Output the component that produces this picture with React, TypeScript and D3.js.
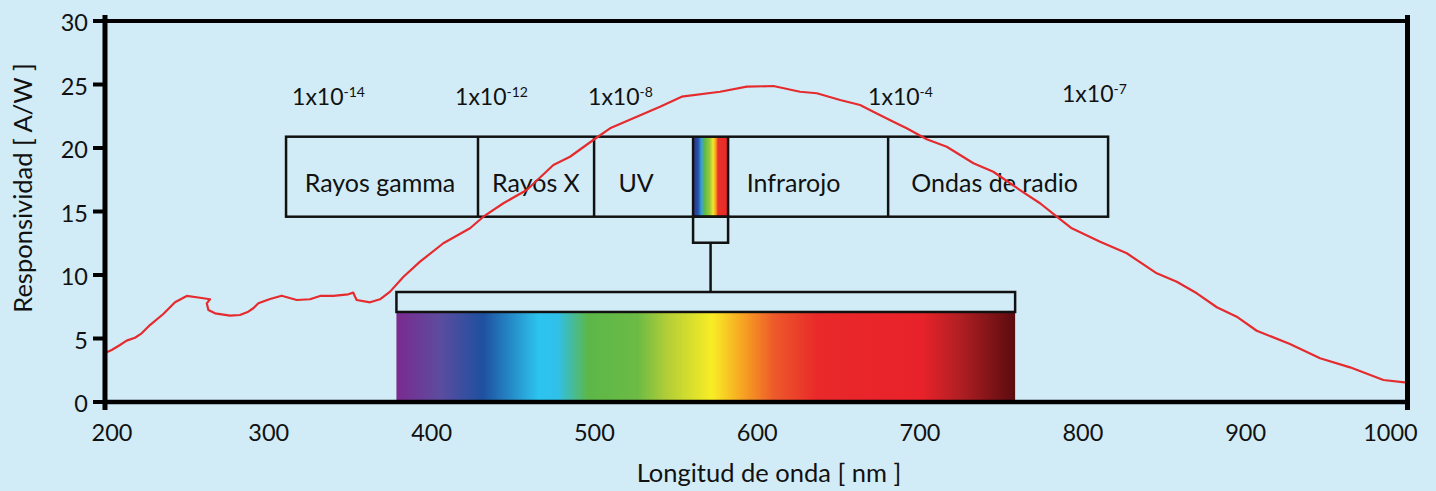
import React, { useEffect, useRef } from 'react';
import * as d3 from 'd3';

// responsivity curve (nm, A/W)
const wavelength = [
  200, 204.1, 209.2, 213.3, 218.4, 222.5, 227.6, 235.8, 243.0, 250.2, 258.4, 264.5,
  262.5, 263.5, 267.6, 276.8, 282.9, 288.0, 291.1, 294.2, 301.4, 308.5, 317.8, 325.9,
  332.1, 340.2, 349.4, 352.5, 353.6, 354.6, 362.8, 368.9, 375.1, 383.2, 393.5, 407.8,
  424.2, 432.4, 444.7, 459.0, 475.4, 485.6, 499.9, 510.2, 526.6, 540.9, 554.2, 577.8,
  594.2, 610.5, 626.9, 637.2, 651.5, 663.8, 671.9, 684.2, 692.4, 704.7, 717.0, 733.4,
  745.6, 762.0, 774.3, 784.6, 793.8, 811.2, 827.6, 846.0, 858.3, 870.6, 882.9, 895.1,
  907.4, 927.8, 946.3, 964.7, 985.2, 999.6,
];
const responsivity = [
  3.85, 4.09, 4.49, 4.83, 5.06, 5.41, 6.06, 6.93, 7.85, 8.35, 8.21, 8.09,
  7.77, 7.24, 6.98, 6.8, 6.85, 7.11, 7.38, 7.77, 8.11, 8.37, 8.03, 8.09,
  8.35, 8.35, 8.48, 8.61, 8.29, 8.03, 7.85, 8.09, 8.69, 9.84, 11.05, 12.5,
  13.68, 14.59, 15.65, 16.69, 18.66, 19.31, 20.63, 21.55, 22.46, 23.25, 24.04, 24.43,
  24.83, 24.88, 24.43, 24.31, 23.78, 23.39, 22.86, 22.07, 21.55, 20.69, 20.1, 18.8,
  18.13, 16.69, 15.65, 14.59, 13.68, 12.62, 11.71, 10.13, 9.47, 8.56, 7.46, 6.72,
  5.61, 4.57, 3.44, 2.73, 1.73, 1.52,
];

const xTicks = [200, 300, 400, 500, 600, 700, 800, 900, 1000];
const yTicks = [0, 5, 10, 15, 20, 25, 30];

// spectrum boxes, edges given in units of the x scale
const bandNames = ['Rayos gamma', 'Rayos X', 'UV', '', 'Infrarojo', 'Ondas de radio'];
const bandEdges = [311.2, 429.1, 500.4, 561.2, 582.7, 681.0, 816.1];
const bandLabelAt = [368.9, 464.7, 526.2, 0, 622.9, 746.4];
const wavelengthExp = ['-14', '-12', '-8', '-4', '-7'];
const wavelengthExpAt = [314.9, 415.0, 496.7, 668.7, 787.8];
const visibleRange = [379, 759];

const spectrumStops: [number, string][] = [
  [0, '#7b2a8f'], [0.07, '#5c4c9f'], [0.14, '#1e509f'], [0.23, '#2cc4ef'],
  [0.26, '#30c0ea'], [0.31, '#5cb748'], [0.39, '#6cbb45'], [0.44, '#b5cf36'],
  [0.51, '#f8ed25'], [0.56, '#f7a322'], [0.61, '#ed5a2a'], [0.68, '#e9292a'],
  [0.85, '#e8222a'], [0.91, '#b11f23'], [1, '#5b0b0f'],
];
const miniStops: [number, string][] = [
  [0.05, '#2e3a8c'], [0.14, '#2050a8'], [0.24, '#3aa0d8'], [0.33, '#5bb848'],
  [0.48, '#9ccc3a'], [0.57, '#f4e52a'], [0.65, '#f5a020'], [0.71, '#e83228'], [1, '#e8282a'],
];

const font = "Lato, 'Open Sans', sans-serif";

function App() {
  const ref = useRef<SVGSVGElement>(null);

  useEffect(() => {
    const width = 1436;
    const height = 491;
    const svg = d3.select(ref.current);
    svg.selectAll('*').remove();

    const x = d3.scaleLinear().domain([200, 1000]).range([105, 1407.5]);
    const y = d3.scaleLinear().domain([0, 30]).range([402, 21]);

    svg.append('rect').attr('width', width).attr('height', height).attr('fill', '#d1ecf7');

    const defs = svg.append('defs');
    const addGrad = (id: string, stops: [number, string][]) => {
      const g = defs.append('linearGradient').attr('id', id).attr('x1', 0).attr('x2', 1).attr('y1', 0).attr('y2', 0);
      stops.forEach(([o, c]) => g.append('stop').attr('offset', o).attr('stop-color', c));
    };
    addGrad('spectrum', spectrumStops);
    addGrad('mini', miniStops);

    // visible spectrum bar
    svg.append('rect')
      .attr('x', x(visibleRange[0]))
      .attr('y', y(7.09))
      .attr('width', x(visibleRange[1]) - x(visibleRange[0]))
      .attr('height', y(0) - y(7.09))
      .attr('fill', 'url(#spectrum)');
    svg.append('rect')
      .attr('x', x(visibleRange[0]))
      .attr('y', y(8.66))
      .attr('width', x(visibleRange[1]) - x(visibleRange[0]))
      .attr('height', y(7.09) - y(8.66))
      .attr('fill', 'none')
      .attr('stroke', '#111')
      .attr('stroke-width', 2.5);

    // band boxes
    const top = y(20.89), bot = y(14.59);
    svg.append('rect')
      .attr('x', x(bandEdges[3]))
      .attr('y', top)
      .attr('width', x(bandEdges[4]) - x(bandEdges[3]))
      .attr('height', bot - top)
      .attr('fill', 'url(#mini)');
    svg.append('rect')
      .attr('x', x(bandEdges[0]))
      .attr('y', top)
      .attr('width', x(bandEdges[6]) - x(bandEdges[0]))
      .attr('height', bot - top)
      .attr('fill', 'none')
      .attr('stroke', '#111')
      .attr('stroke-width', 2.5);
    svg.selectAll('.divider')
      .data(bandEdges.slice(1, -1))
      .enter().append('line')
      .attr('x1', (d) => x(d)).attr('x2', (d) => x(d))
      .attr('y1', top).attr('y2', bot)
      .attr('stroke', '#111').attr('stroke-width', 2.5);

    // zoom box + connector
    svg.append('rect')
      .attr('x', x(bandEdges[3]))
      .attr('y', bot)
      .attr('width', x(bandEdges[4]) - x(bandEdges[3]))
      .attr('height', y(12.54) - bot)
      .attr('fill', 'none')
      .attr('stroke', '#111')
      .attr('stroke-width', 2.5);
    const mid = (bandEdges[3] + bandEdges[4]) / 2;
    svg.append('line')
      .attr('x1', x(mid)).attr('x2', x(mid))
      .attr('y1', y(12.54)).attr('y2', y(8.66))
      .attr('stroke', '#111').attr('stroke-width', 2.5);

    // band names
    svg.selectAll('.band')
      .data(bandNames.map((n, i) => ({ n, at: bandLabelAt[i] })).filter((d) => d.n))
      .enter().append('text')
      .attr('x', (d) => x(d.at))
      .attr('y', 192)
      .attr('text-anchor', 'middle')
      .attr('font-family', font)
      .attr('font-size', 25)
      .attr('fill', '#111')
      .text((d) => d.n);

    // wavelength magnitudes
    const exp = svg.selectAll('.exp')
      .data(wavelengthExp.map((e, i) => ({ e, at: wavelengthExpAt[i] })))
      .enter().append('text')
      .attr('x', (d) => x(d.at))
      .attr('y', (d, i) => (i === 4 ? 102 : 105))
      .attr('font-family', font)
      .attr('font-size', 23)
      .attr('fill', '#111');
    exp.append('tspan').text('1x10');
    exp.append('tspan').attr('dy', -8).attr('font-size', 14).text((d) => d.e);

    // curve
    const line = d3.line<number>()
      .x((d, i) => x(wavelength[i]))
      .y((d) => y(d));
    svg.append('path')
      .datum(responsivity)
      .attr('d', line)
      .attr('fill', 'none')
      .attr('stroke', '#e52b2e')
      .attr('stroke-width', 2.2)
      .attr('stroke-linejoin', 'round');

    // frame
    const g = svg.append('g').attr('stroke', '#000');
    g.append('line').attr('x1', x(200)).attr('x2', x(1000)).attr('y1', y(30)).attr('y2', y(30)).attr('stroke-width', 4);
    g.append('line').attr('x1', x(200)).attr('x2', x(1000)).attr('y1', y(0)).attr('y2', y(0)).attr('stroke-width', 4.5);
    g.append('line').attr('x1', x(200)).attr('x2', x(200)).attr('y1', y(30) - 6).attr('y2', y(0) + 8).attr('stroke-width', 5);
    g.append('line').attr('x1', x(1000)).attr('x2', x(1000)).attr('y1', y(30) - 6).attr('y2', y(0) + 8).attr('stroke-width', 5);
    g.selectAll('.ytick')
      .data(yTicks)
      .enter().append('line')
      .attr('x1', x(200) - 12).attr('x2', x(200))
      .attr('y1', (d) => y(d)).attr('y2', (d) => y(d))
      .attr('stroke-width', 4);

    svg.selectAll('.ylab')
      .data(yTicks)
      .enter().append('text')
      .attr('x', 88)
      .attr('y', (d) => y(d) + 1)
      .attr('text-anchor', 'end')
      .attr('dominant-baseline', 'central')
      .attr('font-family', font)
      .attr('font-size', 23.5)
      .attr('fill', '#111')
      .text((d) => d);

    svg.selectAll('.xlab')
      .data(xTicks)
      .enter().append('text')
      .attr('x', (d, i) => x(d) + (i === 0 ? 7 : i === xTicks.length - 1 ? -17 : 1))
      .attr('y', 441)
      .attr('text-anchor', 'middle')
      .attr('font-family', font)
      .attr('font-size', 23.5)
      .attr('fill', '#111')
      .text((d) => d);

    svg.append('text')
      .attr('x', 769)
      .attr('y', 482)
      .attr('text-anchor', 'middle')
      .attr('font-family', font)
      .attr('font-size', 25.5)
      .attr('fill', '#111')
      .text('Longitud de onda [ nm ]');

    svg.append('text')
      .attr('transform', 'translate(22,188) rotate(-90)')
      .attr('text-anchor', 'middle')
      .attr('dominant-baseline', 'central')
      .attr('font-family', font)
      .attr('font-size', 25.5)
      .attr('fill', '#111')
      .text('Responsividad [ A/W ]');
  }, []);

  return (
    <svg
      ref={ref}
      width="1436"
      height="491"
      style={{ position: 'absolute', left: 0, top: 0, display: 'block' }}
    />
  );
}

export default App;
